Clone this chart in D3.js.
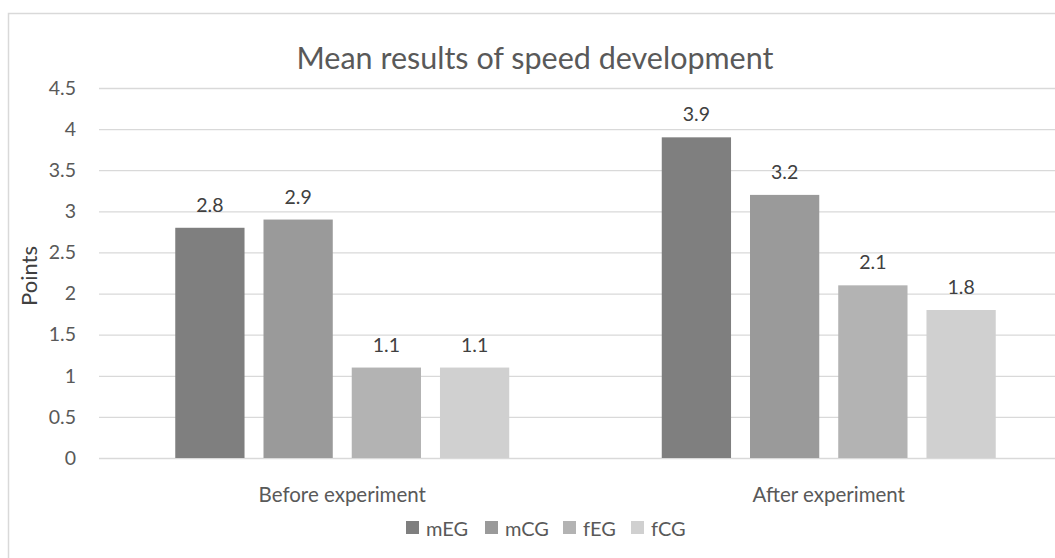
<!DOCTYPE html>
<html>
<head>
<meta charset="utf-8">
<script src="https://cdn.jsdelivr.net/npm/d3@7"></script>
<style>
  body { margin: 0; background: #fff; }
  svg { display: block; font-family: Lato, "Open Sans", sans-serif; }
</style>
</head>
<body>
<div id="chart"></div>
<script>
// data
var categories = ["Before experiment", "After experiment"];
var seriesNames = ["mEG", "mCG", "fEG", "fCG"];
var mEG = [2.8, 3.9];
var mCG = [2.9, 3.2];
var fEG = [1.1, 2.1];
var fCG = [1.1, 1.8];
var yTicks = [0, 0.5, 1, 1.5, 2, 2.5, 3, 3.5, 4, 4.5];
var colors = ["#7f7f7f", "#9a9a9a", "#b3b3b3", "#d0d0d0"];

var seriesValues = [mEG, mCG, fEG, fCG];

var W = 1055, H = 558;
var plot = { left: 99, right: 1072, top: 88, bottom: 458 };

var svg = d3.select("#chart").append("svg")
  .attr("width", W)
  .attr("height", H);

// chart frame (right and bottom run past the crop)
svg.append("rect")
  .attr("x", 8.5).attr("y", 13.5)
  .attr("width", 1060).attr("height", 560)
  .attr("fill", "#fff")
  .attr("stroke", "#d9d9d9")
  .attr("stroke-width", 1.5);

var y = d3.scaleLinear().domain([0, 4.5]).range([plot.bottom, plot.top]);

var x0 = d3.scaleBand()
  .domain(categories)
  .range([plot.left, plot.right])
  .paddingInner(0.3135)
  .paddingOuter(0.3135 / 2);

var x1 = d3.scaleBand()
  .domain(seriesNames)
  .range([0, x0.bandwidth()])
  .paddingInner(0.215)
  .paddingOuter(0);

// gridlines + y labels
var yAxis = d3.axisLeft(y)
  .tickValues(yTicks)
  .tickSize(-(plot.right - plot.left))
  .tickPadding(23)
  .tickFormat(function(d) { return d; });

var gy = svg.append("g")
  .attr("transform", "translate(" + plot.left + ",0)")
  .call(yAxis);
gy.select(".domain").remove();
gy.selectAll(".tick line")
  .attr("stroke", "#d9d9d9")
  .attr("stroke-width", 1.3);
gy.selectAll(".tick text")
  .attr("fill", "#595959")
  .attr("font-size", 19.5)
  .attr("font-family", "Lato, sans-serif");

// bars
var rows = [];
categories.forEach(function(c, i) {
  seriesNames.forEach(function(s, j) {
    rows.push({ cat: c, name: s, value: seriesValues[j][i], color: colors[j] });
  });
});

var groups = svg.append("g");
groups.selectAll("rect")
  .data(rows)
  .enter()
  .append("rect")
  .attr("x", function(d) { return x0(d.cat) + x1(d.name); })
  .attr("y", function(d) { return y(d.value); })
  .attr("width", x1.bandwidth())
  .attr("height", function(d) { return y(0) - y(d.value); })
  .attr("fill", function(d) { return d.color; });

// value labels
groups.selectAll("text")
  .data(rows)
  .enter()
  .append("text")
  .attr("x", function(d) { return x0(d.cat) + x1(d.name) + x1.bandwidth() / 2; })
  .attr("y", function(d) { return y(d.value) - 16; })
  .attr("text-anchor", "middle")
  .attr("fill", "#404040")
  .attr("font-size", 19.5)
  .text(function(d) { return d.value; });

// category labels
var xAxis = d3.axisBottom(x0).tickSize(0).tickPadding(0);
var gx = svg.append("g")
  .attr("transform", "translate(0," + plot.bottom + ")")
  .call(xAxis);
gx.select(".domain").remove();
gx.selectAll(".tick text")
  .attr("y", 44)
  .attr("dy", 0)
  .attr("fill", "#595959")
  .attr("font-size", 20.5)
  .attr("font-family", "Lato, sans-serif");

// title
svg.append("text")
  .attr("x", 535)
  .attr("y", 69)
  .attr("text-anchor", "middle")
  .attr("fill", "#595959")
  .attr("font-size", 30.5)
  .text("Mean results of speed development");

// y axis title
svg.append("text")
  .attr("transform", "translate(37,276) rotate(-90)")
  .attr("text-anchor", "middle")
  .attr("fill", "#404040")
  .attr("font-size", 22)
  .text("Points");

// legend
var legendX = [406, 485, 563, 631];
var legend = svg.append("g");
var items = legend.selectAll("g")
  .data(seriesNames)
  .enter()
  .append("g")
  .attr("transform", function(d, i) { return "translate(" + legendX[i] + ",521)"; });
items.append("rect")
  .attr("width", 13).attr("height", 13)
  .attr("fill", function(d, i) { return colors[i]; });
items.append("text")
  .attr("x", 20)
  .attr("y", 15)
  .attr("fill", "#595959")
  .attr("font-size", 20)
  .text(function(d) { return d; });
</script>
</body>
</html>
